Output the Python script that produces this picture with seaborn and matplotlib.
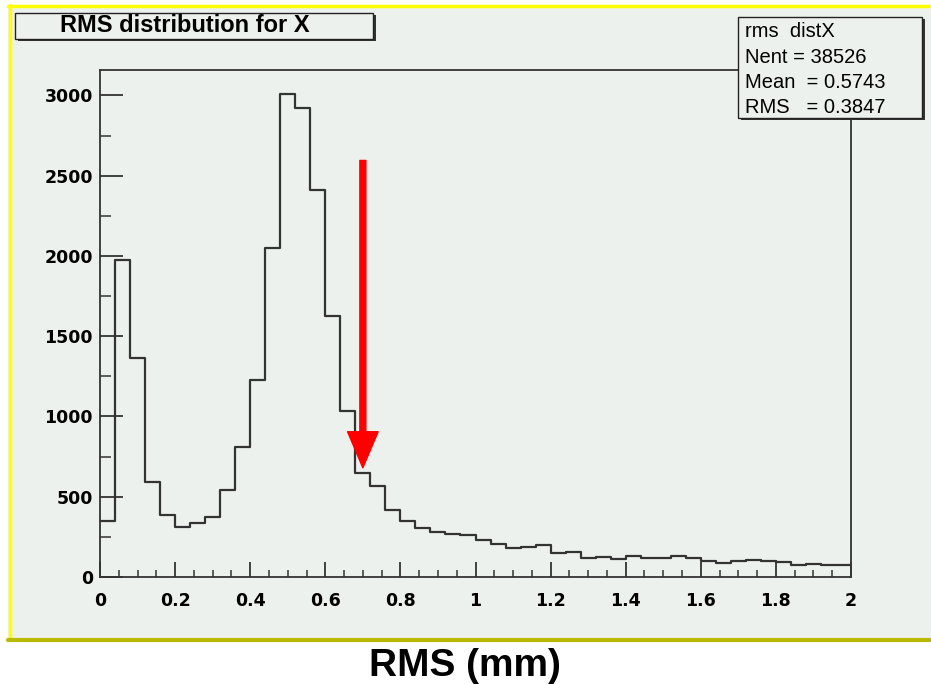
import numpy as np
import matplotlib
matplotlib.use("Agg")
import matplotlib.pyplot as plt
from matplotlib.patches import Rectangle
from matplotlib.ticker import MultipleLocator, FuncFormatter
import seaborn as sns

# ---- data (50 bins over 0..2 mm) ----
bin_lo = 0.0
bin_hi = 2.0
bin_width = 0.04
counts = [350, 1975, 1364, 592, 389, 314, 339, 375, 543, 810,
          1229, 2052, 3008, 2924, 2412, 1625, 1036, 650, 566, 415,
          348, 308, 282, 265, 259, 232, 207, 180, 190, 201,
          149, 157, 116, 122, 114, 132, 116, 116, 132, 116,
          97, 89, 97, 106, 97, 91, 72, 81, 72, 72]
x_ticks = [0, 0.2, 0.4, 0.6, 0.8, 1.0, 1.2, 1.4, 1.6, 1.8, 2.0]
y_ticks = [0, 500, 1000, 1500, 2000, 2500, 3000]
title_text = "RMS distribution for X"
stats_lines = ["rms  distX", "Nent = 38526", "Mean  = 0.5743", "RMS   = 0.3847"]
xlabel_text = "RMS (mm)"
arrow_x = 0.70
arrow_from = 2595
arrow_to = 680

centers = [bin_lo + bin_width * (i + 0.5) for i in range(len(counts))]

sns.set_theme(style="white")
plt.rcParams["font.family"] = ["DejaVu Sans"]

W, H = 931, 684
fig = plt.figure(figsize=(W / 100, H / 100), dpi=100)
fig.patch.set_facecolor("white")

def fx(px):
    return px / W

def fy(py):
    return 1 - py / H

panel_col = "#edf1ed"
# panel background
fig.add_artist(Rectangle((fx(8), fy(641)), fx(W - 8), fy(5) - fy(641),
                         transform=fig.transFigure, facecolor=panel_col,
                         edgecolor="none", zorder=0))
fig.add_artist(plt.Line2D([fx(8), 1], [fy(6), fy(6)], transform=fig.transFigure,
                          color="#ffff00", lw=2.5, zorder=1))
fig.add_artist(plt.Line2D([fx(9.5), fx(9.5)], [fy(5), fy(640)], transform=fig.transFigure,
                          color="#ffff00", lw=2.5, zorder=1))
fig.add_artist(plt.Line2D([fx(8), 1], [fy(640), fy(640)], transform=fig.transFigure,
                          color="#b9b900", lw=3, zorder=1))

ax = fig.add_axes([fx(100), fy(577), fx(851) - fx(100), fy(70) - fy(577)])
ax.set_facecolor(panel_col)

sns.histplot(x=centers, weights=counts, binwidth=bin_width, binrange=(bin_lo, bin_hi),
             element="step", fill=False, color="#333333", linewidth=1.6, ax=ax)

ax.set_xlim(bin_lo, bin_hi)
ax.set_ylim(0, max(counts) * 1.05)
ax.set_xlabel("")
ax.set_ylabel("")
ax.set_xticks(x_ticks)
ax.set_yticks(y_ticks)
ax.xaxis.set_minor_locator(MultipleLocator(0.05))
ax.yaxis.set_minor_locator(MultipleLocator(250))
ax.xaxis.set_major_formatter(FuncFormatter(lambda v, p: "%g" % round(v, 2)))
ax.yaxis.set_major_formatter(FuncFormatter(lambda v, p: "%d" % v))
ax.tick_params(axis="x", which="major", direction="in", length=11, width=1.3,
               color="#333333", pad=11, labelsize=12.5, bottom=True, top=False)
ax.tick_params(axis="x", which="minor", direction="in", length=5, width=1.1,
               color="#333333", bottom=True, top=False)
ax.tick_params(axis="y", which="major", direction="in", length=16.5, width=1.3,
               color="#333333", pad=5, labelsize=12.5, left=True, right=False)
ax.tick_params(axis="y", which="minor", direction="in", length=8, width=1.1,
               color="#333333", left=True, right=False)
for lab in ax.get_xticklabels() + ax.get_yticklabels():
    lab.set_fontweight("bold")
    lab.set_color("black")
for sp in ax.spines.values():
    sp.set_visible(True)
    sp.set_color("#333333")
    sp.set_linewidth(1.3)

# red arrow
ax.annotate("", xy=(arrow_x, arrow_to), xytext=(arrow_x, arrow_from),
            arrowprops=dict(facecolor="#ff0000", edgecolor="#ff0000",
                            width=4.3, headwidth=22, headlength=26, shrink=0),
            zorder=5)

# title box with shadow
fig.add_artist(Rectangle((fx(18), fy(41)), fx(373) - fx(15), fy(13) - fy(39),
                         transform=fig.transFigure, facecolor="#333333",
                         edgecolor="none", zorder=3))
fig.add_artist(Rectangle((fx(15), fy(39)), fx(373) - fx(15), fy(13) - fy(39),
                         transform=fig.transFigure, facecolor=panel_col,
                         edgecolor="#222222", lw=1.0, zorder=4))
fig.text(fx(185), fy(26), title_text, ha="center", va="center", fontsize=17,
         fontweight="bold", family=["Liberation Sans", "DejaVu Sans"],
         color="black", zorder=5)

# stats box with shadow
fig.add_artist(Rectangle((fx(741), fy(120)), fx(922) - fx(738), fy(17) - fy(118),
                         transform=fig.transFigure, facecolor="#333333",
                         edgecolor="none", zorder=3))
fig.add_artist(Rectangle((fx(738), fy(118)), fx(922) - fx(738), fy(17) - fy(118),
                         transform=fig.transFigure, facecolor=panel_col,
                         edgecolor="#222222", lw=1.0, zorder=4))
baselines = [37, 63, 88, 113]
for line, b in zip(stats_lines, baselines):
    fig.text(fx(745), fy(b), line, ha="left", va="baseline", fontsize=14.5,
             family=["Liberation Sans", "DejaVu Sans"], color="black", zorder=5)

# big x label below the panel
fig.text(fx(465), fy(676), xlabel_text, ha="center", va="baseline", fontsize=28,
         fontweight="bold", family=["Liberation Sans", "DejaVu Sans"], color="black")

fig.savefig("out.png", dpi=100, facecolor=fig.get_facecolor())
